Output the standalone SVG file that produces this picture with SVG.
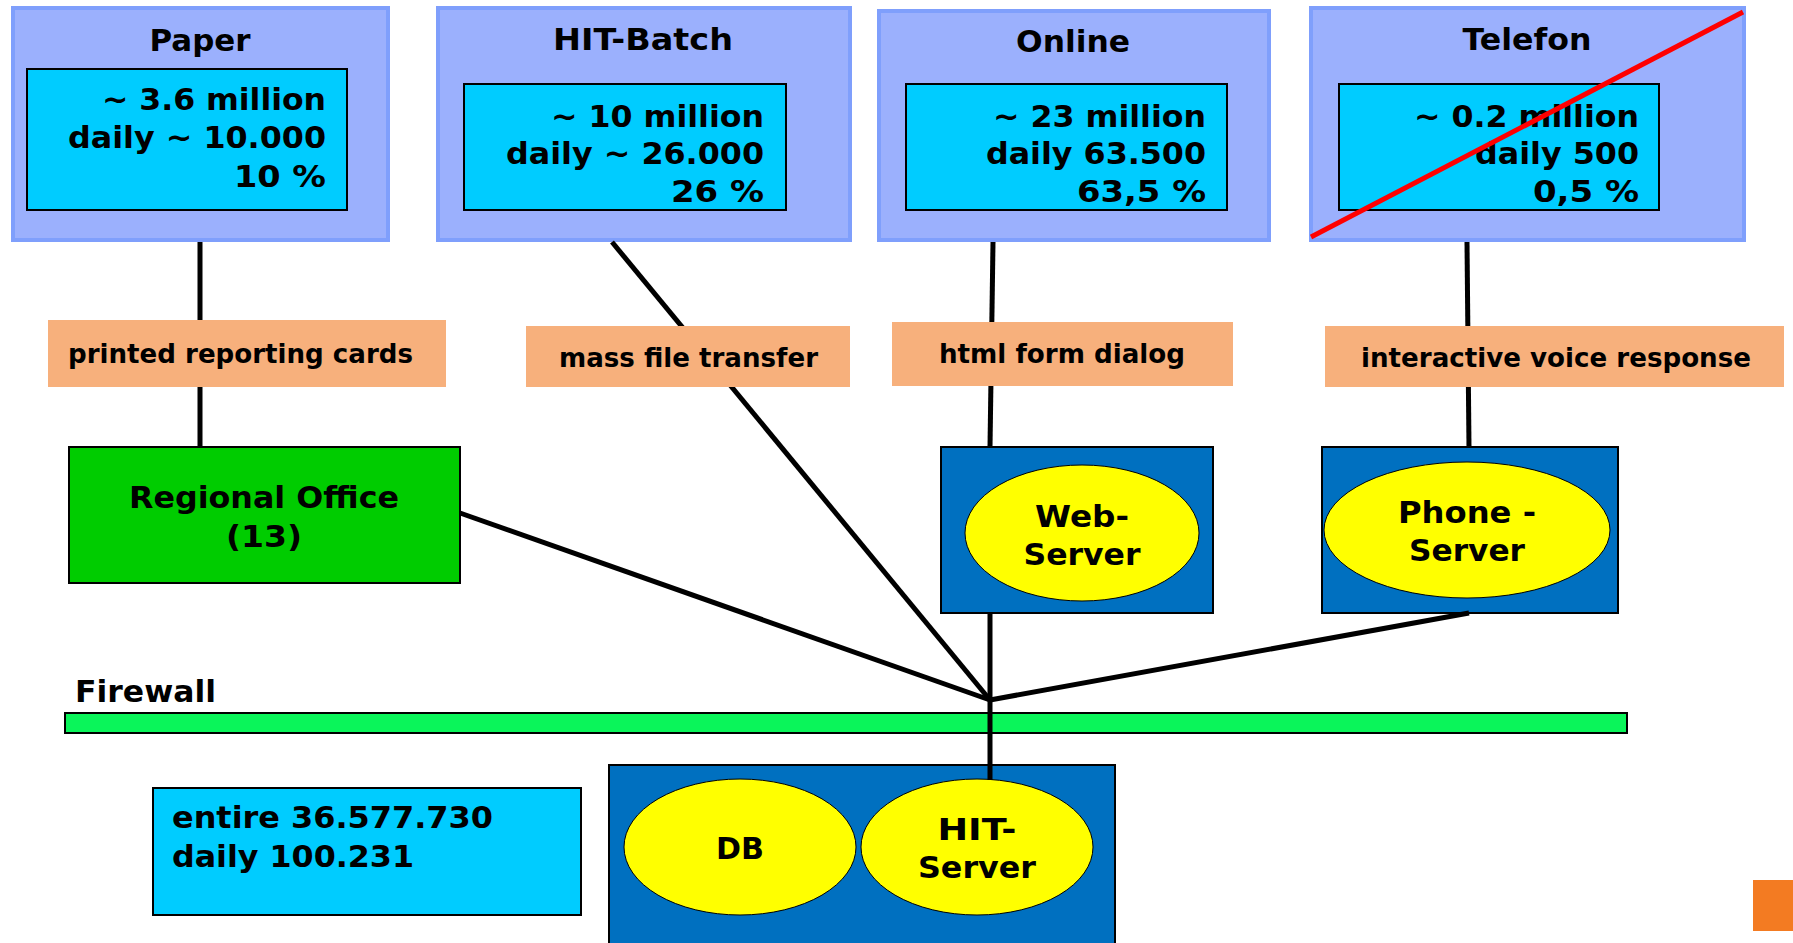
<svg xmlns="http://www.w3.org/2000/svg" width="1793" height="943" viewBox="0 0 1793 943">
<style>
text{font-family:"DejaVu Sans","Verdana","Liberation Sans",sans-serif;font-weight:bold;fill:#000}
.t{font-size:31px}
.lbl{font-size:26px}
.outer{fill:#9bb0fd;stroke:#7f9ffc;stroke-width:4}
.inner{fill:#00ccff;stroke:#000;stroke-width:2}
.tag{fill:#f7b07c}
.srv{fill:#0070c0;stroke:#000;stroke-width:2}
.ell{fill:#ffff00;stroke:#000;stroke-width:1}
.con{stroke:#000;stroke-width:5;fill:none}
</style>
<rect width="1793" height="943" fill="#fff"/>

<g id="firewall">
<rect x="65" y="713" width="1562" height="20" fill="#0af55a" stroke="#000" stroke-width="2"/>
<text class="t" x="75" y="702" textLength="141" lengthAdjust="spacingAndGlyphs">Firewall</text>
</g>

<g id="summary">
<rect x="153" y="788" width="428" height="127" class="inner"/>
<text class="t" x="172" y="828" textLength="321" lengthAdjust="spacingAndGlyphs">entire 36.577.730</text>
<text class="t" x="172" y="867" textLength="242" lengthAdjust="spacingAndGlyphs">daily 100.231</text>
</g>

<g id="hit-server-box">
<rect x="609" y="765" width="506" height="190" class="srv"/>
<g id="db">
<ellipse cx="740" cy="847" rx="116" ry="68" class="ell"/>
<text class="t" x="740" y="859" text-anchor="middle" textLength="48" lengthAdjust="spacingAndGlyphs">DB</text>
</g>
<g id="hit-server">
<ellipse cx="977" cy="847" rx="116" ry="68" class="ell"/>
<text class="t" x="977" y="840" text-anchor="middle" textLength="79" lengthAdjust="spacingAndGlyphs">HIT-</text>
<text class="t" x="977" y="878" text-anchor="middle" textLength="118" lengthAdjust="spacingAndGlyphs">Server</text>
</g>
</g>

<g id="regional-office">
<rect x="69" y="447" width="391" height="136" fill="#00cc00" stroke="#000" stroke-width="2"/>
<text class="t" x="264" y="508" text-anchor="middle" textLength="270" lengthAdjust="spacingAndGlyphs">Regional Office</text>
<text class="t" x="264" y="547" text-anchor="middle" textLength="76" lengthAdjust="spacingAndGlyphs">(13)</text>
</g>

<g id="web-server">
<rect x="941" y="447" width="272" height="166" class="srv"/>
<ellipse cx="1082" cy="533" rx="117" ry="68" class="ell"/>
<text class="t" x="1082" y="527" text-anchor="middle" textLength="94" lengthAdjust="spacingAndGlyphs">Web-</text>
<text class="t" x="1082" y="565" text-anchor="middle" textLength="117" lengthAdjust="spacingAndGlyphs">Server</text>
</g>

<g id="phone-server">
<rect x="1322" y="447" width="296" height="166" class="srv"/>
<ellipse cx="1467" cy="530" rx="143" ry="68" class="ell"/>
<text class="t" x="1467" y="523" text-anchor="middle" textLength="138" lengthAdjust="spacingAndGlyphs">Phone -</text>
<text class="t" x="1467" y="561" text-anchor="middle" textLength="116" lengthAdjust="spacingAndGlyphs">Server</text>
</g>

<g id="paper">
<rect x="13" y="8" width="375" height="232" class="outer"/>
<rect x="27" y="69" width="320" height="141" class="inner"/>
<text class="t" x="200" y="51" text-anchor="middle" textLength="101" lengthAdjust="spacingAndGlyphs">Paper</text>
<text class="t" x="326" y="110" text-anchor="end" textLength="224" lengthAdjust="spacingAndGlyphs">~ 3.6 million</text>
<text class="t" x="326" y="148" text-anchor="end" textLength="258" lengthAdjust="spacingAndGlyphs">daily ~ 10.000</text>
<text class="t" x="326" y="187" text-anchor="end" textLength="92" lengthAdjust="spacingAndGlyphs">10 %</text>
</g>

<g id="hit-batch">
<rect x="438" y="8" width="412" height="232" class="outer"/>
<rect x="464" y="84" width="322" height="126" class="inner"/>
<text class="t" x="643" y="50" text-anchor="middle" textLength="180" lengthAdjust="spacingAndGlyphs">HIT-Batch</text>
<text class="t" x="764" y="127" text-anchor="end" textLength="213" lengthAdjust="spacingAndGlyphs">~ 10 million</text>
<text class="t" x="764" y="164" text-anchor="end" textLength="258" lengthAdjust="spacingAndGlyphs">daily ~ 26.000</text>
<text class="t" x="764" y="202" text-anchor="end" textLength="93" lengthAdjust="spacingAndGlyphs">26 %</text>
</g>

<g id="online">
<rect x="879" y="11" width="390" height="229" class="outer"/>
<rect x="906" y="84" width="321" height="126" class="inner"/>
<text class="t" x="1073" y="52" text-anchor="middle" textLength="114" lengthAdjust="spacingAndGlyphs">Online</text>
<text class="t" x="1206" y="127" text-anchor="end" textLength="213" lengthAdjust="spacingAndGlyphs">~ 23 million</text>
<text class="t" x="1206" y="164" text-anchor="end" textLength="220" lengthAdjust="spacingAndGlyphs">daily 63.500</text>
<text class="t" x="1206" y="202" text-anchor="end" textLength="129" lengthAdjust="spacingAndGlyphs">63,5 %</text>
</g>

<g id="telefon">
<rect x="1311" y="8" width="433" height="232" class="outer"/>
<rect x="1339" y="84" width="320" height="126" class="inner"/>
<text class="t" x="1527" y="50" text-anchor="middle" textLength="129" lengthAdjust="spacingAndGlyphs">Telefon</text>
<text class="t" x="1639" y="127" text-anchor="end" textLength="225" lengthAdjust="spacingAndGlyphs">~ 0.2 million</text>
<text class="t" x="1639" y="164" text-anchor="end" textLength="164" lengthAdjust="spacingAndGlyphs">daily 500</text>
<text class="t" x="1639" y="202" text-anchor="end" textLength="106" lengthAdjust="spacingAndGlyphs">0,5 %</text>
<line x1="1311" y1="237" x2="1743" y2="12" stroke="#ff0000" stroke-width="5"/>
</g>

<g id="connectors">
<line class="con" x1="200" y1="242" x2="200" y2="447"/>
<line class="con" x1="612" y1="242" x2="990" y2="700"/>
<line class="con" x1="993" y1="242" x2="990" y2="447"/>
<line class="con" x1="1467" y1="242" x2="1469" y2="447"/>
<line class="con" x1="460" y1="513" x2="990" y2="700"/>
<line class="con" x1="990" y1="613" x2="990" y2="700"/>
<line class="con" x1="1469" y1="613" x2="990" y2="700"/>
<line class="con" x1="990" y1="700" x2="990" y2="780"/>
</g>

<g id="label-printed">
<rect x="48" y="320" width="398" height="67" class="tag"/>
<text class="lbl" x="68" y="363" textLength="345" lengthAdjust="spacingAndGlyphs">printed reporting cards</text>
</g>
<g id="label-mass">
<rect x="526" y="326" width="324" height="61" class="tag"/>
<text class="lbl" x="559" y="367" textLength="259" lengthAdjust="spacingAndGlyphs">mass file transfer</text>
</g>
<g id="label-html">
<rect x="892" y="322" width="341" height="64" class="tag"/>
<text class="lbl" x="939" y="363" textLength="246" lengthAdjust="spacingAndGlyphs">html form dialog</text>
</g>
<g id="label-ivr">
<rect x="1325" y="326" width="459" height="61" class="tag"/>
<text class="lbl" x="1361" y="367" textLength="390" lengthAdjust="spacingAndGlyphs">interactive voice response</text>
</g>

<rect id="corner-mark" x="1753" y="880" width="40" height="51" fill="#f37b22"/>
</svg>
